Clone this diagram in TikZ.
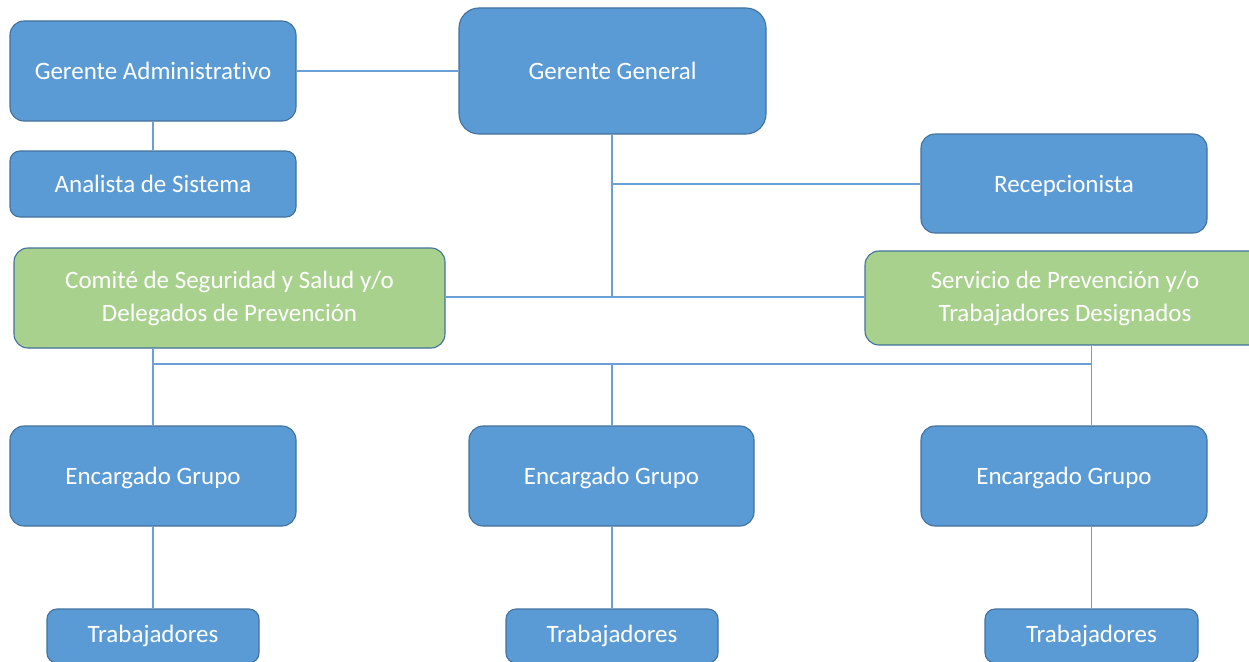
\documentclass[tikz,border=0pt]{standalone}
\usepackage{fontspec}
\setmainfont{Carlito}[RawFeature=-liga]
\definecolor{boxblue}{HTML}{5B9BD5}
\definecolor{boxgreen}{HTML}{A9D18E}
\definecolor{boxline}{HTML}{41719C}
\definecolor{linkblue}{HTML}{6A9FD8}
% single-line label with its descender depth ignored for centring
\newcommand{\flatlabel}[1]{\raisebox{0pt}[\height][0pt]{#1}}
\begin{document}
\begin{tikzpicture}[x=1pt,y=-1pt,
  box/.style={draw=boxline, fill=boxblue, line width=1.1pt, rounded corners=14pt,
    text=white, font=\fontsize{25}{33}\selectfont, align=center, inner sep=0pt,
    rectangle},
  greenbox/.style={box, fill=boxgreen},
  small/.style={rounded corners=10pt},
  link/.style={draw=linkblue, line width=1.4pt}]
\useasboundingbox (0,0) rectangle (1249,661);
\clip (0,0) rectangle (1249,661);

% top management
\node[box, minimum width=286pt, minimum height=100pt] (ga) at (153,71) {Gerente Administrativo};
\node[box, small, minimum width=286pt, minimum height=66pt] (an) at (153,184) {Analista de Sistema};
\node[box, rounded corners=20pt, minimum width=307pt, minimum height=126pt] (gg) at (612.5,71) {Gerente General};
\node[box, minimum width=286pt, minimum height=99pt] (re) at (1064,183.5) {\flatlabel{Recepcionista}};

% prevention bodies
\node[greenbox, minimum width=431pt, minimum height=100pt] (co) at (229.5,298)
  {Comité de Seguridad y Salud y/o\\Delegados de Prevención};
\node[greenbox, minimum width=400pt, minimum height=94pt] (se) at (1065,298)
  {Servicio de Prevención y/o\\Trabajadores Designados};

% group leaders
\node[box, minimum width=286pt, minimum height=100pt] (e1) at (153,476) {\flatlabel{Encargado Grupo}};
\node[box, minimum width=285pt, minimum height=100pt] (e2) at (611.5,476) {\flatlabel{Encargado Grupo}};
\node[box, minimum width=286pt, minimum height=100pt] (e3) at (1064,476) {\flatlabel{Encargado Grupo}};

% workers
\node[box, small, minimum width=212pt, minimum height=54pt] (t1) at (153,636) {Trabajadores};
\node[box, small, minimum width=212pt, minimum height=54pt] (t2) at (612,636) {Trabajadores};
\node[box, small, minimum width=213pt, minimum height=54pt] (t3) at (1091.5,636) {Trabajadores};

% junctions
\coordinate (j1) at (612,184);
\coordinate (j2) at (612,297);
\coordinate (bus) at (612,364);

% connectors
\draw[link] (ga.east) -- (gg.west);
\draw[link] (ga.south) -- (an.north);
\draw[link] (gg.south -| j1) -- (j2);
\draw[link] (j1) -- (re.west |- j1);
\draw[link] (co.east |- j2) -- (se.west |- j2);
\draw[link] (e1.north |- co.south) -- (e1.north);
\draw[link] (e1.north |- bus) -- (t3.north |- bus);
\draw[link] (t3.north |- se.south) -- (t3.north |- e3.north);
\draw[link] (bus) -- (bus |- e2.north);
\draw[link] (e1.south) -- (t1.north);
\draw[link] (e2.south -| t2.north) -- (t2.north);
\draw[link] (t3.north |- e3.south) -- (t3.north);
\end{tikzpicture}
\end{document}
